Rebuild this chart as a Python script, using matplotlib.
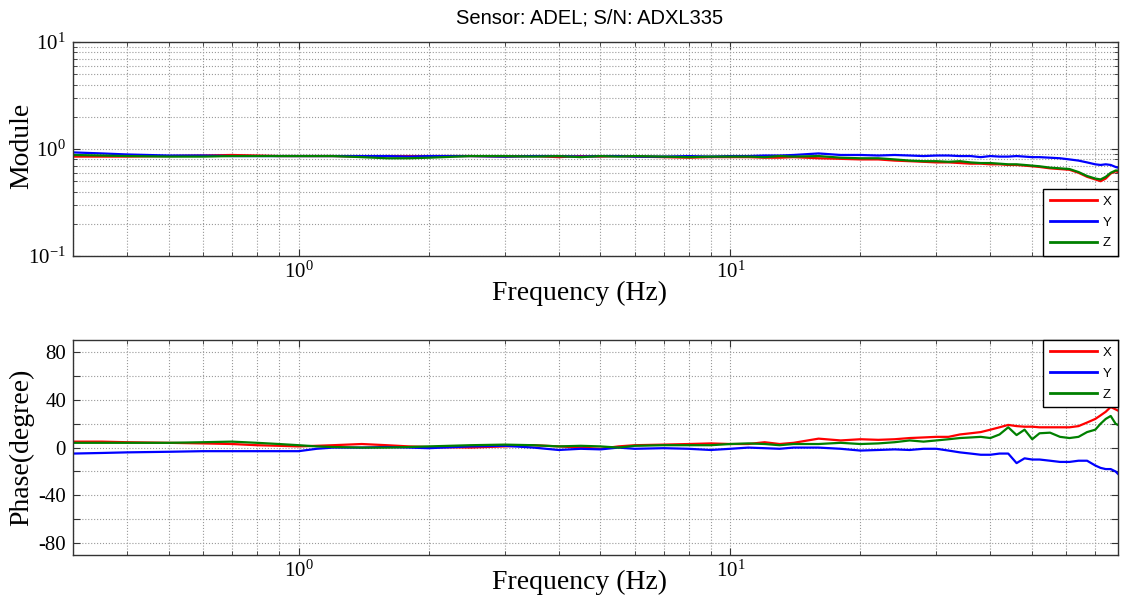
import matplotlib
matplotlib.use("Agg")
import matplotlib.pyplot as plt
from matplotlib.ticker import LogLocator, FixedLocator, NullFormatter, FixedFormatter

plt.rcParams["mathtext.fontset"] = "stix"

# Frequency axis (Hz) shared by every trace
freq = [0.3, 0.35, 0.4, 0.5, 0.6, 0.7, 0.8, 0.9,
        1.0, 1.1, 1.2, 1.4, 1.6, 1.8,
        2.0, 2.5, 3.0, 3.5, 4.0, 4.5, 5.0, 5.5, 6.0,
        7, 8, 9, 10,
        11, 12, 13, 14, 16, 18, 20,
        22, 24, 26, 28, 30,
        32, 34, 36, 38, 40,
        42, 44, 46, 48, 50,
        52, 55, 58, 61, 64, 67,
        70, 72, 74, 76, 78, 79]

# Magnitude of the transfer function per axis
module_x = [0.85, 0.85, 0.85, 0.86, 0.87, 0.88, 0.87, 0.86,
            0.86, 0.86, 0.86, 0.85, 0.86, 0.86,
            0.86, 0.86, 0.85, 0.86, 0.84, 0.86, 0.85, 0.86, 0.85,
            0.84, 0.83, 0.84, 0.84,
            0.84, 0.83, 0.83, 0.84, 0.82, 0.81, 0.80,
            0.80, 0.78, 0.77, 0.76, 0.75,
            0.75, 0.74, 0.73, 0.73, 0.72,
            0.72, 0.71, 0.71, 0.70, 0.69,
            0.68, 0.66, 0.65, 0.64, 0.60, 0.55,
            0.52, 0.50, 0.53, 0.59, 0.62, 0.61]
module_y = [0.93, 0.91, 0.89, 0.87, 0.87, 0.86, 0.86, 0.86,
            0.86, 0.86, 0.86, 0.86, 0.86, 0.85,
            0.86, 0.86, 0.85, 0.86, 0.86, 0.85, 0.86, 0.86, 0.85,
            0.85, 0.86, 0.85, 0.86,
            0.86, 0.87, 0.87, 0.88, 0.91, 0.88, 0.88,
            0.87, 0.88, 0.87, 0.86, 0.87,
            0.87, 0.86, 0.86, 0.84, 0.86,
            0.85, 0.85, 0.86, 0.85, 0.84,
            0.84, 0.83, 0.82, 0.80, 0.78, 0.75,
            0.72, 0.71, 0.72, 0.71, 0.68, 0.67]
module_z = [0.88, 0.87, 0.86, 0.85, 0.85, 0.86, 0.86, 0.86,
            0.86, 0.86, 0.86, 0.84, 0.82, 0.82,
            0.83, 0.86, 0.86, 0.85, 0.86, 0.84, 0.86, 0.85, 0.86,
            0.85, 0.84, 0.85, 0.85,
            0.85, 0.84, 0.86, 0.85, 0.86, 0.83, 0.82,
            0.82, 0.80, 0.78, 0.77, 0.77,
            0.76, 0.77, 0.75, 0.74, 0.74,
            0.73, 0.72, 0.72, 0.71, 0.70,
            0.69, 0.67, 0.66, 0.65, 0.61, 0.56,
            0.53, 0.52, 0.55, 0.60, 0.63, 0.63]

# Phase (degrees) per axis
phase_x = [5, 5, 4.5, 4, 3.5, 3, 2, 1.5,
           1, 1.5, 2, 3, 2, 1,
           0.5, 0, 1, 2, 1, 0, -1, 1, 2,
           2.5, 3, 3.5, 3,
           3, 4.5, 3, 4, 7.5, 6, 7,
           6.5, 7, 8, 8.5, 9,
           9, 11, 12, 13, 15,
           17, 19, 18, 17.5, 17.5,
           17, 17, 17, 17, 18, 21,
           24, 27, 30, 34, 32, 31]
phase_y = [-5, -4.5, -4, -3.5, -3, -3, -3, -3,
           -3, -1, 0, 0, 0.5, 0,
           -0.5, 1, 1.5, 0, -2, -1, -1.5, 0, -1,
           -0.5, -1, -2, -1,
           0, -0.5, -1, 0, 0, -1, -2.5,
           -2, -1.5, -2, -1, -1,
           -2.5, -4, -5, -6, -6,
           -5, -5, -13, -9, -10,
           -10, -11, -12, -12, -11, -11,
           -15, -17, -18, -18, -20, -22]
phase_z = [4, 4, 4, 4, 4.5, 5, 4, 3,
           2, 1, 0.5, 0, 0, 0.5,
           1, 2, 2.5, 2, 1, 1.5, 1, 0, 1.5,
           2, 2, 2, 3,
           3.5, 3, 2, 3, 3, 4, 3,
           3.5, 4.5, 6, 5, 6,
           7, 8, 8.5, 9, 8,
           11, 17, 10.5, 15, 7,
           12, 12.5, 9, 8, 9, 13,
           15, 20, 24, 26.5, 20, 19]

series_labels = ["X", "Y", "Z"]
series_colors = ["#ff0000", "#0000ff", "#008000"]

phase_ticks = [-80, -60, -40, -20, 0, 20, 40, 60, 80]
phase_ticklabels = ["-80", "", "-40", "", "0", "", "40", "", "80"]

serif = "Liberation Serif"
sans = "Liberation Sans"
grid_kw = dict(color="#999999", linestyle=":", linewidth=0.8)

W, H = 1121, 601
fig = plt.figure(figsize=(W / 100, H / 100), dpi=100)
ax1 = fig.add_axes([0.0651, 0.574, 0.9322, 0.356])
ax2 = fig.add_axes([0.0651, 0.0765, 0.9322, 0.3575])

for ax in (ax1, ax2):
    ax.set_xscale("log")
    ax.set_xlim(0.3, 79)
    ax.xaxis.set_major_locator(LogLocator(base=10))
    ax.xaxis.set_minor_locator(LogLocator(base=10, subs=range(2, 10)))
    ax.xaxis.set_minor_formatter(NullFormatter())
    ax.tick_params(which="both", direction="in", top=True, right=True,
                   colors="#333333", labelcolor="black")
    ax.tick_params(which="major", length=5, width=0.8, labelsize=15, pad=5)
    ax.tick_params(which="minor", length=3, width=0.6)
    ax.tick_params(axis="x", which="major", pad=4)
    for s in ax.spines.values():
        s.set_linewidth(1.0)
        s.set_color("#333333")
    ax.set_axisbelow(True)

# Magnitude panel
ax1.set_yscale("log")
ax1.set_ylim(0.1, 10)
ax1.yaxis.set_minor_locator(LogLocator(base=10, subs=range(2, 10)))
ax1.yaxis.set_minor_formatter(NullFormatter())
ax1.grid(True, which="both", **grid_kw)
for vals, lab, col in zip([module_x, module_y, module_z], series_labels, series_colors):
    ax1.plot(freq, vals, color=col, linewidth=1.6, label=lab)

# Phase panel
ax2.set_ylim(-90, 90)
ax2.yaxis.set_major_locator(FixedLocator(phase_ticks))
ax2.yaxis.set_major_formatter(FixedFormatter(phase_ticklabels))
ax2.grid(True, which="major", axis="y", **grid_kw)
ax2.grid(True, which="both", axis="x", **grid_kw)
for vals, lab, col in zip([phase_x, phase_y, phase_z], series_labels, series_colors):
    ax2.plot(freq, vals, color=col, linewidth=1.6, label=lab)

for ax in (ax1, ax2):
    for lab in ax.get_xticklabels() + ax.get_yticklabels():
        lab.set_fontfamily(serif)

# Axis titles placed in figure pixel coordinates
def fig_text(x, y, s, **kw):
    fig.text(x / W, 1 - y / H, s, ha="center", va="center", **kw)

fig_text(590, 18, "Sensor: ADEL; S/N: ADXL335", fontsize=14.5, family=sans)
fig_text(22, 146, "Module", fontsize=20, family=serif, rotation=90)
fig_text(22, 447, "Phase(degree)", fontsize=20, family=serif, rotation=90)
fig_text(580, 293, "Frequency (Hz)", fontsize=20, family=serif)
fig_text(580, 582, "Frequency (Hz)", fontsize=20, family=serif)

leg_kw = dict(prop={"family": sans, "size": 9.5}, frameon=True, fancybox=False,
              edgecolor="black", framealpha=1, borderaxespad=0,
              handlelength=3.6, handletextpad=0.4, labelspacing=0.65,
              borderpad=0.5)
leg1 = ax1.legend(loc="lower right", bbox_to_anchor=(1, 0), **leg_kw)
leg2 = ax2.legend(loc="upper right", bbox_to_anchor=(1, 1), **leg_kw)
for leg in (leg1, leg2):
    leg.get_frame().set_linewidth(1.0)
    for line in leg.get_lines():
        line.set_linewidth(2.0)

fig.savefig("out.png", dpi=100)
